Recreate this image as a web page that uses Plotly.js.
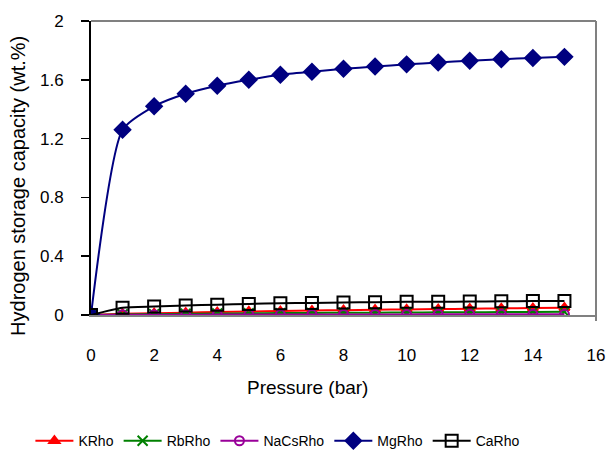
<!DOCTYPE html>
<html><head><meta charset="utf-8">
<script src="https://cdn.plot.ly/plotly-3.0.1.min.js"></script>
<style>body{margin:0;background:#fff}#c{width:608px;height:452px}</style>
</head><body><div id="c"></div>
<script>
const pressure = [0,1,2,3,4,5,6,7,8,9,10,11,12,13,14,15];
const kRho   = [0,0.008,0.012,0.016,0.02,0.024,0.027,0.03,0.033,0.036,0.038,0.04,0.043,0.045,0.047,0.05];
const rbRho  = [0,0.004,0.006,0.008,0.01,0.012,0.013,0.014,0.015,0.016,0.017,0.018,0.019,0.02,0.021,0.022];
const naCsRho= [0,0.001,0.002,0.002,0.003,0.003,0.003,0.004,0.004,0.004,0.004,0.005,0.005,0.005,0.005,0.005];
const mgRho  = [0,1.26,1.42,1.505,1.56,1.60,1.634,1.655,1.675,1.69,1.705,1.718,1.73,1.74,1.748,1.756];
const caRho  = [0,0.05,0.058,0.065,0.07,0.075,0.08,0.082,0.085,0.087,0.09,0.09,0.092,0.093,0.095,0.095];
const names = ['KRho','RbRho','NaCsRho','MgRho','CaRho'];
const series = [kRho, rbRho, naCsRho, mgRho, caRho];
const xTitle = 'Pressure (bar)';
const yTitle = 'Hydrogen storage capacity (wt.%)';
const colors = ['#ff0000','#008000','#990099','#000080','#000000'];
const symbols = ['triangle-up','x-thin-open','circle-open','diamond','square-open'];
const sizes = [9,10,9,12,12];
const traces = series.map((s,i)=>({
  x: pressure, y: s, name: names[i], type:'scatter', mode:'lines+markers',
  line:{color:colors[i], width:2, shape:'spline', smoothing:0.6},
  marker:{symbol:symbols[i], size:sizes[i], color:colors[i], line:{color:colors[i], width:2}}
}));
const layout = {
  width:608, height:452, paper_bgcolor:'#fff', plot_bgcolor:'#fff',
  margin:{l:91,r:12,t:21,b:137},
  font:{family:'Liberation Sans, Arial, sans-serif', color:'#000', size:17},
  showlegend:true,
  legend:{orientation:'h', xref:'container', yref:'container', x:0.05, xanchor:'left', y:0.024, yanchor:'middle',
    font:{size:14}, itemwidth:38, tracegroupgap:0},
  xaxis:{range:[0,16], dtick:2, tick0:0, showgrid:false, zeroline:false, showline:true, linecolor:'#808080', linewidth:2,
    ticks:'', ticklabelstandoff:24, automargin:false},
  yaxis:{range:[0,2], dtick:0.4, tick0:0, showgrid:false, zeroline:false, showline:true, linecolor:'#000', linewidth:2,
    ticks:'outside', ticklen:8, tickcolor:'#000', tickwidth:1.5, ticklabelstandoff:14, automargin:false},
  annotations:[
    {text:xTitle, xref:'paper', yref:'paper', x:0.428, y:-0.245, xanchor:'center', yanchor:'middle', showarrow:false, font:{size:19}},
    {text:yTitle, xref:'paper', yref:'paper', x:-0.1446, y:0.439, xanchor:'center', yanchor:'middle', textangle:-90, showarrow:false, font:{size:20}}
  ],
  shapes:[
    {type:'line', xref:'paper', yref:'paper', x0:0, x1:1, y0:1, y1:1, line:{color:'#808080', width:2}},
    {type:'line', xref:'paper', yref:'paper', x0:1, x1:1, y0:-0.02, y1:1, line:{color:'#808080', width:2}}
  ]
};
Plotly.newPlot('c', traces, layout, {displayModeBar:false, staticPlot:true});
</script></body></html>
